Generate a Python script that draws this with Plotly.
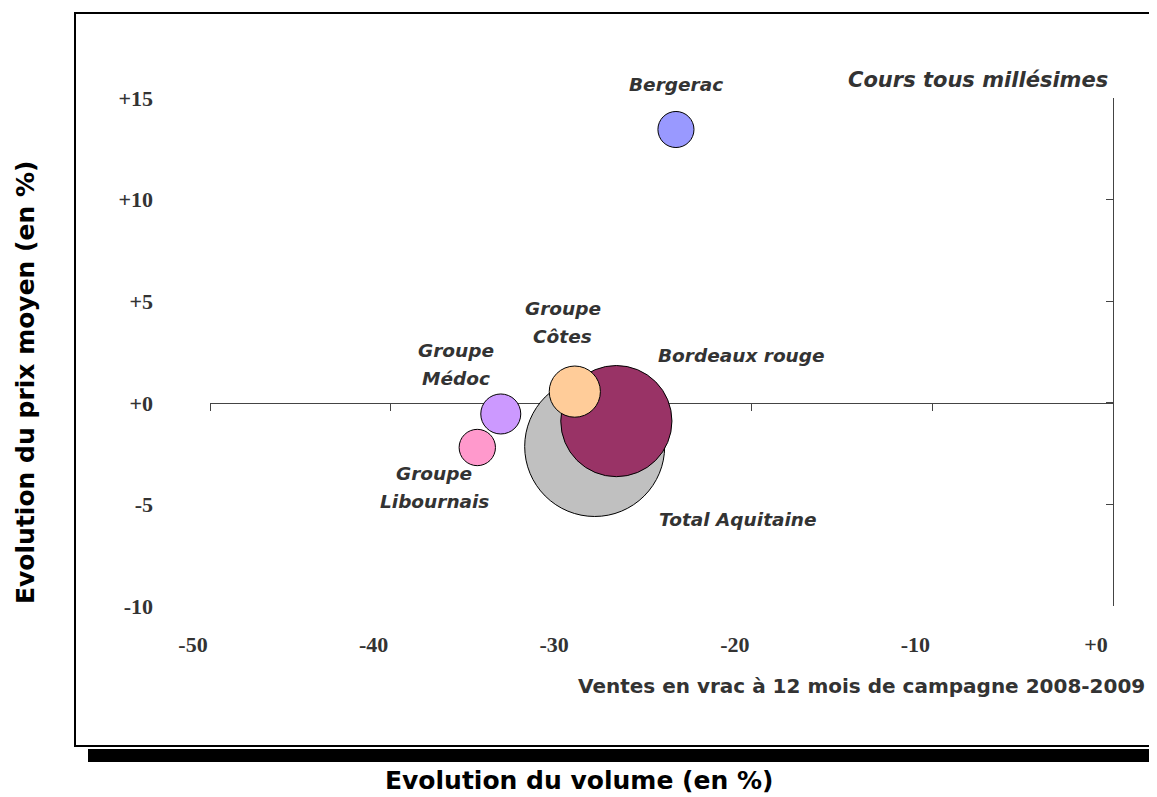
import plotly.graph_objects as go

# ---- data ----
regions = ["Total Aquitaine", "Bordeaux rouge", "Groupe Côtes", "Groupe Médoc", "Groupe Libournais", "Bergerac"]
volume_change = [-28.7, -27.5, -29.8, -33.9, -35.2, -24.2]      # Evolution du volume (en %)
price_change = [-2.15, -0.9, 0.55, -0.55, -2.2, 13.45]          # Evolution du prix moyen (en %)
bubble_volume = [4900, 3090, 655, 400, 330, 325]                 # bubble size (relative volume)
bubble_colors = ["#C0C0C0", "#993366", "#FFCC99", "#CC99FF", "#FF99CC", "#9999FF"]
label_lines = [["Total Aquitaine"], ["Bordeaux rouge"], ["Groupe", "Côtes"],
               ["Groupe", "Médoc"], ["Groupe", "Libournais"], ["Bergerac"]]

x_tick_vals = [-50, -40, -30, -20, -10, 0]
x_tick_text = ["-50", "-40", "-30", "-20", "-10", "+0"]
y_tick_vals = [-10, -5, 0, 5, 10, 15]
y_tick_text = ["-10", "-5", "+0", "+5", "+10", "+15"]

# ---- styling / placement (pixels) ----
label_offsets = [(62, -73, "left"), (40, 66, "left"), (-12, 69, "center"),
                 (-45, 49, "center"), (-43, -40, "center"), (0, 45, "center")]
line_gap = 28

# page body has an 8px margin: the figure is drawn from (8, 8) on screen
OFF = 8
W, H = 1157 - OFF, 797 - OFF
# plot area in screen pixels
SL, ST, SR, SB = 210, 98, 1113, 606
ML, MT = SL - OFF, ST - OFF
MR, MB = W - (SR - OFF), H - (SB - OFF)
PW, PH = SR - SL, SB - ST


def px(xs):
    return (xs - SL) / PW


def py(ys):
    return (SB - ys) / PH


fig = go.Figure()
fig.add_trace(go.Scatter(
    x=volume_change, y=price_change, mode="markers",
    marker=dict(size=bubble_volume, sizemode="area", sizeref=0.5,
                color=bubble_colors, opacity=1,
                line=dict(color="#000000", width=1)),
    text=regions, hoverinfo="text", showlegend=False, cliponaxis=False,
))
# helper trace for the overlaid label axes
fig.add_trace(go.Scatter(x=[], y=[], xaxis="x2", yaxis="y2",
                         showlegend=False, hoverinfo="skip"))

label_font = dict(family="DejaVu Sans", size=18.5, color="#333333",
                  weight="bold", style="italic")
annotations = []
for xv, yv, lines, (dx, dy, anc) in zip(volume_change, price_change, label_lines, label_offsets):
    n = len(lines)
    for i, line in enumerate(lines):
        off = ((n - 1) / 2 - i) * line_gap
        annotations.append(dict(
            x=xv, y=yv, xref="x", yref="y", text=line, showarrow=False,
            xanchor=anc, yanchor="middle", xshift=dx, yshift=dy + off,
            font=label_font))

annotations += [
    dict(text="Cours tous millésimes", xref="paper", yref="paper",
         x=px(1110), y=py(80), xanchor="right", yanchor="middle", showarrow=False,
         font=dict(family="DejaVu Sans", size=21, color="#333333",
                   weight="bold", style="italic")),
    dict(text="Ventes en vrac à 12 mois de campagne 2008-2009", xref="paper", yref="paper",
         x=px(1147), y=py(686), xanchor="right", yanchor="middle", showarrow=False,
         font=dict(family="DejaVu Sans", size=20, color="#333333", weight="bold")),
    dict(text="Evolution du volume (en %)", xref="paper", yref="paper",
         x=px(579), y=py(780), xanchor="center", yanchor="middle", showarrow=False,
         font=dict(family="DejaVu Sans", size=25, color="#000000", weight="bold")),
    dict(text="Evolution du prix moyen (en %)", xref="paper", yref="paper",
         x=px(25), y=py(383), xanchor="center", yanchor="middle", showarrow=False,
         textangle=-90,
         font=dict(family="DejaVu Sans", size=25, color="#000000", weight="bold")),
]

shapes = [
    dict(type="rect", xref="paper", yref="paper", layer="below",
         x0=px(88), x1=px(1175), y0=py(762), y1=py(749),
         fillcolor="#000000", line=dict(width=0)),
    dict(type="rect", xref="paper", yref="paper", layer="below",
         x0=px(75), x1=px(1170), y0=py(746), y1=py(13),
         fillcolor="rgba(0,0,0,0)", line=dict(color="#000000", width=2)),
]

tick_font = dict(family="Liberation Serif", size=22, color="#333333", weight="bold")
axis_color = "#444444"

fig.update_layout(
    width=W, height=H,
    margin=dict(l=ML, r=MR, t=MT, b=MB, autoexpand=False),
    paper_bgcolor="white", plot_bgcolor="white",
    showlegend=False,
    xaxis=dict(range=[-50, 0], anchor="free", position=0.4,
               showline=True, linecolor=axis_color, linewidth=1,
               ticks="outside", ticklen=7, tickcolor=axis_color, tickwidth=1,
               tickvals=x_tick_vals, showticklabels=False,
               showgrid=False, zeroline=False, layer="below traces", fixedrange=True),
    yaxis=dict(range=[-10, 15], anchor="x", side="right",
               showline=True, linecolor=axis_color, linewidth=1,
               ticks="inside", ticklen=7, tickcolor=axis_color, tickwidth=1,
               tickvals=y_tick_vals, showticklabels=False,
               showgrid=False, zeroline=False, layer="below traces", fixedrange=True),
    xaxis2=dict(range=[-50, 0], overlaying="x", anchor="y2", side="bottom",
                showline=False, ticks="", tickvals=x_tick_vals, ticktext=x_tick_text,
                tickfont=tick_font, ticklabelstandoff=23, ticklabelshift=-17,
                showgrid=False, zeroline=False, fixedrange=True),
    yaxis2=dict(range=[-10, 15], overlaying="y", anchor="x2", side="left",
                showline=False, ticks="", tickvals=y_tick_vals, ticktext=y_tick_text,
                tickfont=tick_font, ticklabelstandoff=56,
                showgrid=False, zeroline=False, fixedrange=True),
    annotations=annotations,
    shapes=shapes,
)

fig.write_html("out.html")
